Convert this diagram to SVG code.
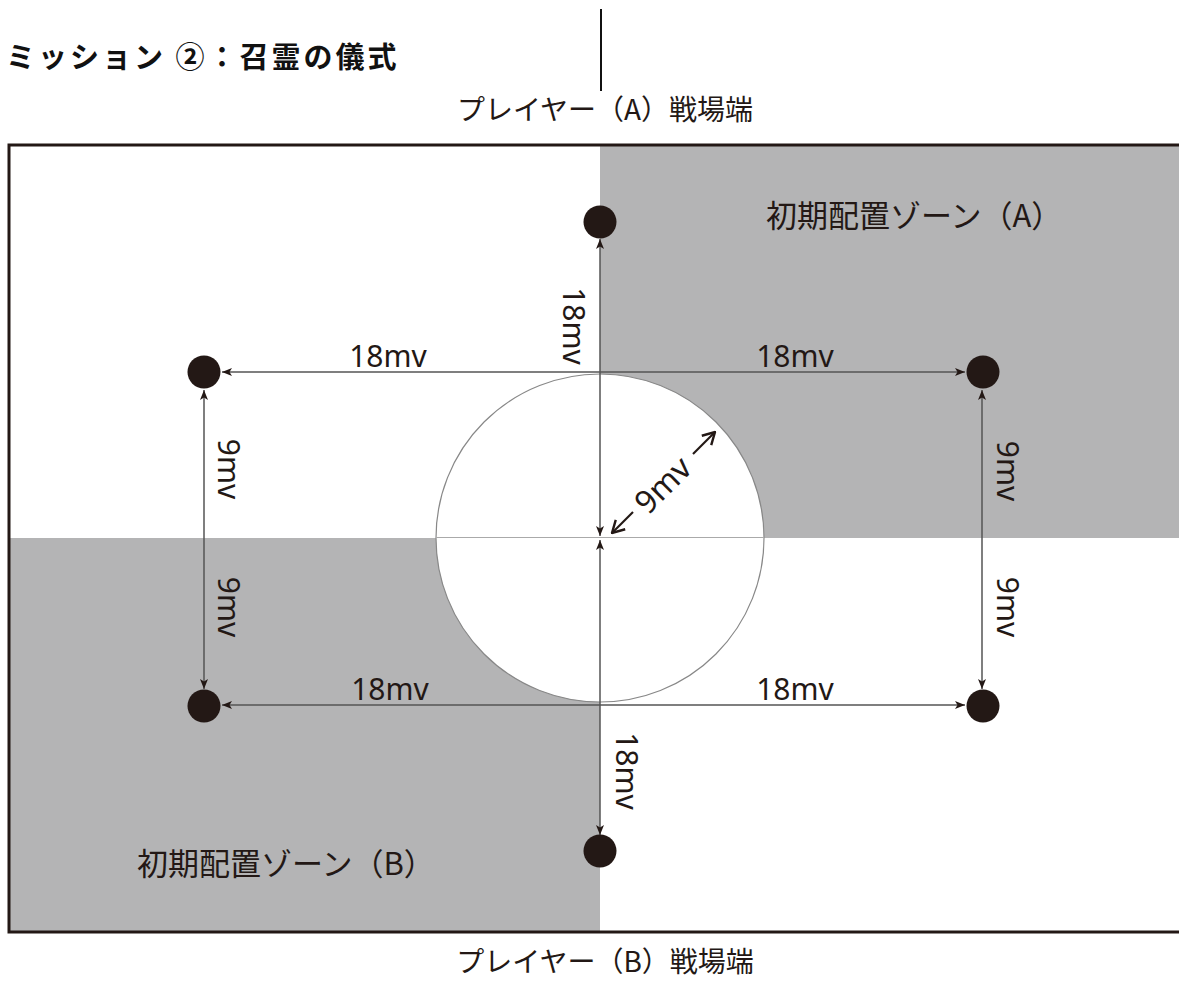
<svg xmlns="http://www.w3.org/2000/svg" width="1179" height="983" viewBox="0 0 1179 983">
<style>
.lbl{font-family:"Noto Sans","Liberation Sans",sans-serif;font-size:30px;fill:#231815;}
.jp{font-family:"Noto Sans CJK JP","Noto Sans",sans-serif;font-size:28px;fill:#231815;}
.dim{stroke:#555;stroke-width:1.5;fill:none;}
.dot{fill:#231815;}
</style>
<defs>
<marker id="ah" viewBox="0 0 10 10" refX="10" refY="5" markerWidth="10" markerHeight="10" markerUnits="userSpaceOnUse" orient="auto">
<path d="M0,1 L10,5 L0,9 L2.5,5 Z" fill="#231815"/>
</marker>
<marker id="oa" viewBox="0 0 12 12" refX="11" refY="6" markerWidth="16" markerHeight="16" markerUnits="userSpaceOnUse" orient="auto">
<path d="M2,1 L11,6 L2,11" fill="none" stroke="#231815" stroke-width="1.8"/>
</marker>
</defs>
<rect x="0" y="0" width="1179" height="983" fill="#fff"/>
<g id="title">
<text x="6" y="68" style="font-family:'Noto Sans CJK JP',sans-serif;font-size:29px;font-weight:700;fill:#111;letter-spacing:3px">ミッション ②：召霊の儀式</text>
<line x1="601" y1="9" x2="601" y2="91" stroke="#111" stroke-width="2"/>
</g>
<g id="board">
<rect x="9" y="145" width="1185" height="787" fill="#fff"/>
<rect x="600" y="145" width="590" height="393" fill="#b4b4b5"/>
<rect x="9" y="538" width="591" height="394" fill="#b4b4b5"/>
<rect x="9" y="145" width="1185" height="787" fill="none" stroke="#231815" stroke-width="3"/>
</g>
<g id="center-circle">
<circle cx="600" cy="538" r="164" fill="#fff" stroke="#888" stroke-width="1.2"/>
<line x1="436" y1="537.5" x2="764" y2="537.5" stroke="#aaa" stroke-width="1.2"/>
</g>
<g id="connectors">
<line class="dim" x1="600" y1="372" x2="600" y2="239" marker-end="url(#ah)"/>
<line class="dim" x1="600" y1="372" x2="600" y2="536" marker-end="url(#ah)"/>
<line class="dim" x1="600" y1="705" x2="600" y2="540" marker-end="url(#ah)"/>
<line class="dim" x1="600" y1="705" x2="600" y2="835" marker-end="url(#ah)"/>
<line class="dim" x1="600" y1="372" x2="222" y2="372" marker-end="url(#ah)"/>
<line class="dim" x1="600" y1="372" x2="965" y2="372" marker-end="url(#ah)"/>
<line class="dim" x1="600" y1="705" x2="222" y2="705" marker-end="url(#ah)"/>
<line class="dim" x1="600" y1="705" x2="965" y2="705" marker-end="url(#ah)"/>
<line class="dim" x1="204" y1="538" x2="204" y2="390" marker-end="url(#ah)"/>
<line class="dim" x1="204" y1="538" x2="204" y2="689" marker-end="url(#ah)"/>
<line class="dim" x1="982" y1="538" x2="982" y2="390" marker-end="url(#ah)"/>
<line class="dim" x1="982" y1="538" x2="982" y2="689" marker-end="url(#ah)"/>
<line x1="633" y1="512" x2="612" y2="533" stroke="#231815" stroke-width="2.2" marker-end="url(#oa)"/>
<line x1="693" y1="454" x2="715" y2="432" stroke="#231815" stroke-width="2.2" marker-end="url(#oa)"/>
</g>
<g id="dot-top"><circle class="dot" cx="600" cy="222" r="16.5"/></g>
<g id="dot-bottom"><circle class="dot" cx="600" cy="851" r="16.5"/></g>
<g id="dot-lt"><circle class="dot" cx="204" cy="372" r="16.5"/></g>
<g id="dot-rt"><circle class="dot" cx="983" cy="372" r="16.5"/></g>
<g id="dot-lb"><circle class="dot" cx="204" cy="706" r="16.5"/></g>
<g id="dot-rb"><circle class="dot" cx="983" cy="706" r="16.5"/></g>
<g id="labels">
<text class="lbl" x="388" y="367" text-anchor="middle">18mv</text>
<text class="lbl" x="795" y="367" text-anchor="middle">18mv</text>
<text class="lbl" x="390" y="700" text-anchor="middle">18mv</text>
<text class="lbl" x="795" y="700" text-anchor="middle">18mv</text>
<text class="lbl" text-anchor="middle" transform="translate(563,326) rotate(90)">18mv</text>
<text class="lbl" text-anchor="middle" transform="translate(616,771) rotate(90)">18mv</text>
<text class="lbl" text-anchor="middle" transform="translate(218,469) rotate(90)">9mv</text>
<text class="lbl" text-anchor="middle" transform="translate(218,607) rotate(90)">9mv</text>
<text class="lbl" text-anchor="middle" transform="translate(997,471) rotate(90)">9mv</text>
<text class="lbl" text-anchor="middle" transform="translate(997,607) rotate(90)">9mv</text>
<text class="lbl" text-anchor="middle" dominant-baseline="central" style="font-size:32px" transform="translate(662,484) rotate(-45)">9mv</text>
</g>
<g id="zone-a"><text class="jp" x="766" y="227" style="font-size:31px">初期配置ゾーン（A）</text></g>
<g id="zone-b"><text class="jp" x="137" y="875" style="font-size:31px">初期配置ゾーン（B）</text></g>
<g id="edge-a"><text class="jp" x="605" y="120" text-anchor="middle">プレイヤー（A）戦場端</text></g>
<g id="edge-b"><text class="jp" x="605" y="972" text-anchor="middle">プレイヤー（B）戦場端</text></g>
</svg>
